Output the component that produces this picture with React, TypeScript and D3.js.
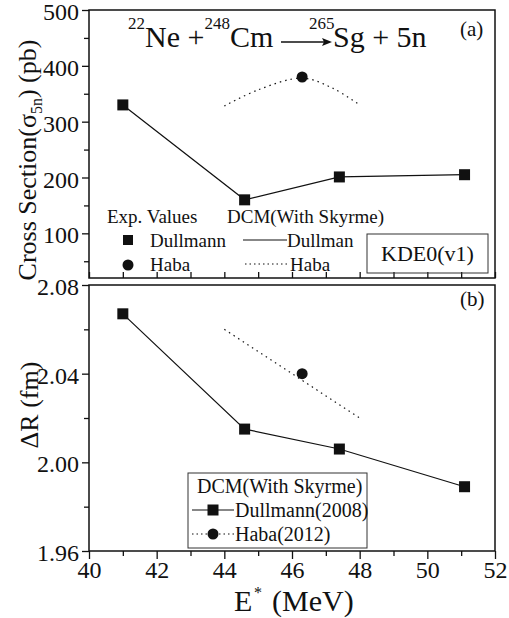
import React, { useEffect, useRef } from "react";
import * as d3 from "d3";

// panel (a) cross section, panel (b) delta R
const energies = [41.0, 44.6, 47.4, 51.1];
const sigmaDullmann = [330, 160, 201, 205];
const habaCurveE = [44.0, 45.0, 46.3, 47.2, 48.0];
const habaCurveSigma = [328, 357, 378, 360, 330];
const habaExpE = [46.3];
const habaExpSigma = [380];

const deltaRDullmann = [2.067, 2.015, 2.006, 1.989];
const habaLineE = [44, 46, 48];
const habaLineR = [2.06, 2.04, 2.02];
const habaPointR = [2.04];

const xTicks = [40, 42, 44, 46, 48, 50, 52];
const yTicksA = [100, 200, 300, 400, 500];
const yTicksB = [1.96, 2.0, 2.04, 2.08];

const FONT = "Liberation Serif";

const App = () => {
  const svgRef = useRef(null);

  useEffect(() => {
    const W = 509, H = 618;
    const left = 89, right = 495;
    const svg = d3.select(svgRef.current);
    svg.selectAll("*").remove();
    svg.attr("width", W).attr("height", H).attr("font-family", FONT);

    const x = d3.scaleLinear().domain([40, 52]).range([left, right]);
    const yA = d3.scaleLinear().domain([20, 500]).range([278, 10]);
    const yB = d3.scaleLinear().domain([1.96, 2.08]).range([551, 285]);

    const ink = "#111";

    const frame = (y0, y1) => {
      svg.append("rect")
        .attr("x", left).attr("y", y0)
        .attr("width", right - left).attr("height", y1 - y0)
        .attr("fill", "none").attr("stroke", ink).attr("stroke-width", 1.5);
    };

    const styleAxis = g => {
      g.attr("font-family", FONT);
      g.select(".domain").remove();
      g.selectAll("line").attr("stroke", ink).attr("stroke-width", 1.3);
      g.selectAll("text").attr("font-size", 24).attr("fill", ink);
    };

    // ---- panel (a)
    frame(yA.range()[1], yA.range()[0]);

    const gA = svg.append("g").attr("transform", `translate(${left},0)`)
      .call(d3.axisLeft(yA).tickValues(yTicksA).tickSize(7).tickPadding(3).tickFormat(d3.format("d")));
    styleAxis(gA);
    gA.selectAll("text").attr("dy", "0.4em");
    const gAm = svg.append("g").attr("transform", `translate(${left},0)`)
      .call(d3.axisLeft(yA).tickValues([50, 150, 250, 350, 450]).tickSize(5).tickFormat(""));
    styleAxis(gAm);

    // inward x ticks on bottom of (a)
    const gAx = svg.append("g").attr("transform", `translate(0,${yA.range()[0]})`)
      .call(d3.axisTop(x).ticks(12).tickSize(6).tickFormat(""));
    styleAxis(gAx);

    const lineA = d3.line().x(d => x(d[0])).y(d => yA(d[1]));
    svg.append("path")
      .datum(energies.map((e, i) => [e, sigmaDullmann[i]]))
      .attr("d", lineA).attr("fill", "none").attr("stroke", ink).attr("stroke-width", 1.2);
    svg.append("path")
      .datum(habaCurveE.map((e, i) => [e, habaCurveSigma[i]]))
      .attr("d", lineA.curve(d3.curveCatmullRom))
      .attr("fill", "none").attr("stroke", ink).attr("stroke-width", 1.2)
      .attr("stroke-dasharray", "1.5 4");

    svg.append("g").selectAll("rect")
      .data(energies.map((e, i) => [e, sigmaDullmann[i]]))
      .join("rect")
      .attr("x", d => x(d[0]) - 5.5).attr("y", d => yA(d[1]) - 5.5)
      .attr("width", 11).attr("height", 11).attr("fill", ink);
    svg.append("g").selectAll("circle")
      .data(habaExpE.map((e, i) => [e, habaExpSigma[i]]))
      .join("circle")
      .attr("cx", d => x(d[0])).attr("cy", d => yA(d[1])).attr("r", 5.5).attr("fill", ink);

    // title
    const title = svg.append("text").attr("y", 47).attr("fill", ink).attr("font-size", 30);
    title.append("tspan").attr("x", 128).attr("dy", -18).attr("font-size", 17).text("22");
    title.append("tspan").attr("dy", 18).text("Ne +");
    title.append("tspan").attr("dy", -18).attr("font-size", 17).text("248");
    title.append("tspan").attr("dy", 18).text("Cm");
    svg.append("line").attr("x1", 281).attr("x2", 326).attr("y1", 42).attr("y2", 42)
      .attr("stroke", ink).attr("stroke-width", 1.3);
    svg.append("path").attr("d", "M332,42 L322,38 L324,42 L322,46 Z").attr("fill", ink);
    const t2 = svg.append("text").attr("y", 47).attr("fill", ink).attr("font-size", 30);
    t2.append("tspan").attr("x", 309).attr("dy", -18).attr("font-size", 17).text("265");
    t2.append("tspan").attr("x", 333).attr("dy", 18).text("Sg + 5n");
    svg.append("text").attr("x", 460).attr("y", 36).attr("fill", ink).attr("font-size", 21).text("(a)");

    // legend (a)
    const lg = svg.append("g").attr("fill", ink).attr("font-size", 19);
    lg.append("text").attr("x", 107).attr("y", 223).text("Exp. Values");
    lg.append("text").attr("x", 227).attr("y", 223).text("DCM(With Skyrme)");
    lg.append("rect").attr("x", 123).attr("y", 235).attr("width", 10).attr("height", 10);
    lg.append("text").attr("x", 150).attr("y", 247).text("Dullmann");
    lg.append("line").attr("x1", 243).attr("x2", 287).attr("y1", 240).attr("y2", 240)
      .attr("stroke", ink).attr("stroke-width", 1.2);
    lg.append("text").attr("x", 287).attr("y", 247).text("Dullman");
    lg.append("circle").attr("cx", 128).attr("cy", 265).attr("r", 5.5);
    lg.append("text").attr("x", 150).attr("y", 271).text("Haba");
    lg.append("line").attr("x1", 245).attr("x2", 287).attr("y1", 264).attr("y2", 264)
      .attr("stroke", ink).attr("stroke-width", 1.2).attr("stroke-dasharray", "1.5 3");
    lg.append("text").attr("x", 290).attr("y", 271).text("Haba");
    lg.append("rect").attr("x", 367).attr("y", 234).attr("width", 121).attr("height", 39)
      .attr("fill", "none").attr("stroke", "#333").attr("stroke-width", 1);
    lg.append("text").attr("x", 427.5).attr("y", 261).attr("text-anchor", "middle")
      .attr("font-size", 22).text("KDE0(v1)");

    const yl = svg.append("text").attr("transform", "translate(36,160) rotate(-90)")
      .attr("text-anchor", "middle").attr("fill", ink).attr("font-size", 26);
    yl.append("tspan").text("Cross Section(σ");
    yl.append("tspan").attr("dy", 6).attr("font-size", 16).text("5n");
    yl.append("tspan").attr("dy", -6).text(") (pb)");

    // ---- panel (b)
    frame(yB.range()[1], yB.range()[0]);

    const gB = svg.append("g").attr("transform", `translate(${left},0)`)
      .call(d3.axisLeft(yB).tickValues(yTicksB).tickSize(7).tickPadding(3).tickFormat(d3.format(".2f")));
    styleAxis(gB);
    gB.selectAll("text").attr("dy", "0.4em");
    const gBm = svg.append("g").attr("transform", `translate(${left},0)`)
      .call(d3.axisLeft(yB).tickValues([1.98, 2.02, 2.06]).tickSize(5).tickFormat(""));
    styleAxis(gBm);

    const gBx = svg.append("g").attr("transform", `translate(0,${yB.range()[0]})`)
      .call(d3.axisBottom(x).tickValues(xTicks).tickSize(8).tickPadding(2).tickFormat(d3.format("d")));
    styleAxis(gBx);
    const gBxm = svg.append("g").attr("transform", `translate(0,${yB.range()[0]})`)
      .call(d3.axisBottom(x).tickValues([41, 43, 45, 47, 49, 51]).tickSize(5).tickFormat(""));
    styleAxis(gBxm);

    const lineB = d3.line().x(d => x(d[0])).y(d => yB(d[1]));
    svg.append("path")
      .datum(energies.map((e, i) => [e, deltaRDullmann[i]]))
      .attr("d", lineB).attr("fill", "none").attr("stroke", ink).attr("stroke-width", 1.2);
    svg.append("path")
      .datum(habaLineE.map((e, i) => [e, habaLineR[i]]))
      .attr("d", lineB).attr("fill", "none").attr("stroke", ink).attr("stroke-width", 1.2)
      .attr("stroke-dasharray", "1.5 4");
    svg.append("g").selectAll("rect")
      .data(energies.map((e, i) => [e, deltaRDullmann[i]]))
      .join("rect")
      .attr("x", d => x(d[0]) - 5.5).attr("y", d => yB(d[1]) - 5.5)
      .attr("width", 11).attr("height", 11).attr("fill", ink);
    svg.append("g").selectAll("circle")
      .data(habaExpE.map((e, i) => [e, habaPointR[i]]))
      .join("circle")
      .attr("cx", d => x(d[0])).attr("cy", d => yB(d[1])).attr("r", 5.5).attr("fill", ink);

    svg.append("text").attr("x", 460).attr("y", 306).attr("fill", ink).attr("font-size", 21).text("(b)");

    // legend (b)
    const lb = svg.append("g").attr("fill", ink).attr("font-size", 20);
    lb.append("rect").attr("x", 188).attr("y", 473).attr("width", 179).attr("height", 75)
      .attr("fill", "#fff").attr("stroke", "#333").attr("stroke-width", 1);
    lb.append("text").attr("x", 197).attr("y", 493).text("DCM(With Skyrme)");
    lb.append("line").attr("x1", 192).attr("x2", 234).attr("y1", 510).attr("y2", 510)
      .attr("stroke", ink).attr("stroke-width", 1.2);
    lb.append("rect").attr("x", 207.5).attr("y", 504.5).attr("width", 11).attr("height", 11);
    lb.append("text").attr("x", 235).attr("y", 517).text("Dullmann(2008)");
    lb.append("line").attr("x1", 192).attr("x2", 234).attr("y1", 534).attr("y2", 534)
      .attr("stroke", ink).attr("stroke-width", 1.2).attr("stroke-dasharray", "1.5 3");
    lb.append("circle").attr("cx", 213).attr("cy", 534).attr("r", 5.5);
    lb.append("text").attr("x", 235).attr("y", 541).text("Haba(2012)");

    svg.append("text").attr("transform", "translate(38,405) rotate(-90)")
      .attr("text-anchor", "middle").attr("fill", ink).attr("font-size", 26).text("ΔR (fm)");

    svg.append("text").attr("x", 234).attr("y", 611).attr("fill", ink).attr("font-size", 30).text("E");
    svg.append("text").attr("x", 254).attr("y", 598).attr("fill", ink).attr("font-size", 16).text("*");
    svg.append("text").attr("x", 272).attr("y", 611).attr("fill", ink).attr("font-size", 30).text("(MeV)");
  }, []);

  return (
    <div style={{ position: "absolute", left: 0, top: 0, background: "#fff" }}>
      <svg ref={svgRef}></svg>
    </div>
  );
};

export default App;
